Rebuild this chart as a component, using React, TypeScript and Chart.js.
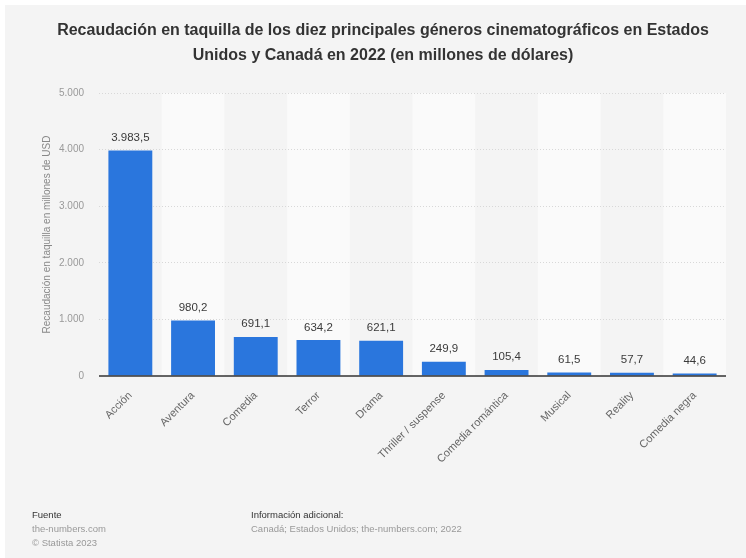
import React, { useEffect, useRef } from "react";
import { Chart, registerables } from "chart.js";

Chart.register(...registerables);

const categories = [
  "Acción",
  "Aventura",
  "Comedia",
  "Terror",
  "Drama",
  "Thriller / suspense",
  "Comedia romántica",
  "Musical",
  "Reality",
  "Comedia negra",
];
const values = [3983.5, 980.2, 691.1, 634.2, 621.1, 249.9, 105.4, 61.5, 57.7, 44.6];
const yMax = 5000;
const yStep = 1000;

const titleLines = [
  "Recaudación en taquilla de los diez principales géneros cinematográficos en Estados",
  "Unidos y Canadá en 2022 (en millones de dólares)",
];
const yTitle = "Recaudación en taquilla en millones de USD";
const sourceLines = ["the-numbers.com", "© Statista 2023"];
const infoLines = ["Canadá; Estados Unidos; the-numbers.com; 2022"];

const FONT = "'Liberation Sans', Arial, Helvetica, sans-serif";

function groupThousands(s: string): string {
  return s.replace(/\B(?=(\d{3})+(?!\d))/g, ".");
}
function fmtTick(v: number): string {
  return groupThousands(String(Math.round(v)));
}
function fmtValue(v: number): string {
  const [i, d] = v.toFixed(1).split(".");
  return groupThousands(i) + "," + d;
}

const overlayPlugin = {
  id: "overlay",
  beforeDraw(chart: any) {
    const { ctx, chartArea, scales } = chart;
    const x = scales.x;
    const step = x.getPixelForValue(1) - x.getPixelForValue(0);
    ctx.save();
    ctx.fillStyle = "#fafafa";
    categories.forEach((_, i) => {
      if (i % 2 === 1) {
        const c = x.getPixelForValue(i);
        ctx.fillRect(c - step / 2, chartArea.top, step, chartArea.bottom - chartArea.top);
      }
    });
    ctx.restore();
  },
  afterDatasetsDraw(chart: any) {
    const { ctx, chartArea, scales } = chart;
    const meta = chart.getDatasetMeta(0);
    ctx.save();
    const y0 = scales.y.getPixelForValue(0);
    ctx.strokeStyle = "#333333";
    ctx.lineWidth = 1.5;
    ctx.beginPath();
    ctx.moveTo(chartArea.left, y0);
    ctx.lineTo(chartArea.right, y0);
    ctx.stroke();
    ctx.fillStyle = "#3a3a3a";
    ctx.font = `11.5px ${FONT}`;
    ctx.textAlign = "center";
    ctx.textBaseline = "bottom";
    meta.data.forEach((bar: any, i: number) => {
      ctx.fillText(fmtValue(values[i]), bar.x, bar.y - 7);
    });
    ctx.restore();
  },
  afterDraw(chart: any) {
    const { ctx, chartArea } = chart;
    ctx.save();
    ctx.fillStyle = "#333333";
    ctx.font = `bold 16px ${FONT}`;
    ctx.textAlign = "center";
    ctx.textBaseline = "middle";
    titleLines.forEach((t, i) => ctx.fillText(t, 383, 31 + i * 25));
    ctx.save();
    ctx.translate(47, (chartArea.top + chartArea.bottom) / 2);
    ctx.rotate(-Math.PI / 2);
    ctx.fillStyle = "#888888";
    ctx.font = `10px ${FONT}`;
    ctx.fillText(yTitle, 0, 0);
    ctx.restore();
    ctx.textAlign = "left";
    ctx.font = `9.5px ${FONT}`;
    ctx.fillStyle = "#333333";
    ctx.fillText("Fuente", 32, 515);
    ctx.fillText("Información adicional:", 251, 515);
    ctx.fillStyle = "#999999";
    sourceLines.forEach((t, i) => ctx.fillText(t, 32, 529 + i * 14));
    infoLines.forEach((t, i) => ctx.fillText(t, 251, 529 + i * 14));
    ctx.restore();
  },
};

export default function App() {
  const ref = useRef<HTMLCanvasElement | null>(null);
  useEffect(() => {
    if (!ref.current) return;
    const chart = new Chart(ref.current, {
      type: "bar",
      data: {
        labels: categories,
        datasets: [
          {
            data: values,
            backgroundColor: "#2a76dd",
            borderWidth: 0,
            categoryPercentage: 1,
            barPercentage: 0.7,
          },
        ],
      },
      options: {
        responsive: false,
        animation: false,
        layout: { padding: { left: 0, right: 20, top: 93, bottom: 0 } },
        plugins: {
          legend: { display: false },
          tooltip: { enabled: false },
          title: { display: false },
        },
        scales: {
          x: {
            grid: { display: false, drawTicks: false },
            border: { display: false },
            ticks: {
              color: "#666666",
              font: { size: 11, family: FONT },
              maxRotation: 45,
              minRotation: 45,
              padding: 13,
              autoSkip: false,
            },
            afterFit(scale: any) {
              scale.height = 182;
            },
          },
          y: {
            min: 0,
            max: yMax,
            grid: {
              drawTicks: false,
              color: (c: any) => (c.tick && c.tick.value === 0 ? "rgba(0,0,0,0)" : "#d8d8d8"),
              lineWidth: 1,
            },
            border: { display: false, dash: [1, 2] },
            ticks: {
              stepSize: yStep,
              color: "#999999",
              font: { size: 10, family: FONT },
              padding: 15,
              callback: (v: any) => fmtTick(Number(v)),
            },
            afterFit(scale: any) {
              scale.width = 99;
            },
          },
        },
      },
      plugins: [overlayPlugin],
    });
    return () => chart.destroy();
  }, []);

  return (
    <div style={{ position: "fixed", left: 0, top: 0, width: 746, height: 558, background: "#ffffff" }}>
      <div style={{ position: "absolute", left: 5, top: 5, right: 0, bottom: 0, background: "#f4f4f4" }} />
      <canvas ref={ref} width={746} height={558} style={{ position: "absolute", left: 0, top: 0, width: 746, height: 558 }} />
    </div>
  );
}
